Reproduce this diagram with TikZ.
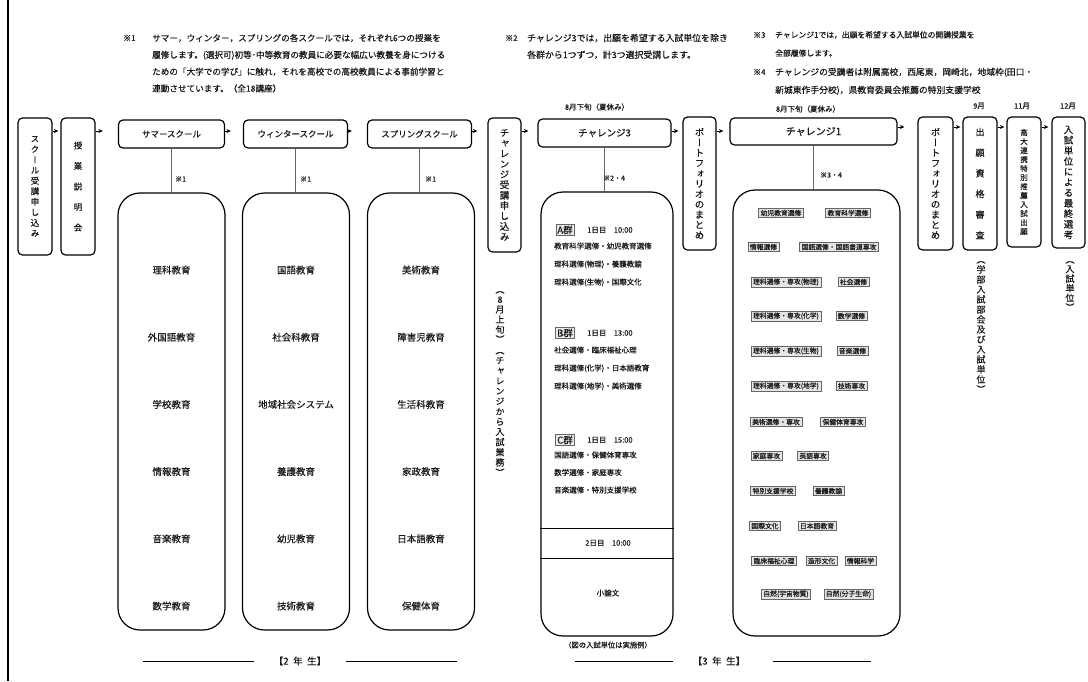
\documentclass[tikz,border=0pt]{standalone}
\usepackage{fontspec}
\setmainfont{Noto Sans CJK JP}[FakeBold=0.35]
\newfontfamily\jpv{Noto Sans CJK JP}[RawFeature={+vert},FakeBold=0.35]
\usetikzlibrary{arrows.meta}
\newcommand\fsz[1]{\fontsize{#1}{#1}\selectfont}
\newcommand\fszb[2]{\fontsize{#1}{#2}\selectfont}
\ExplSyntaxOn
\NewDocumentCommand\vstack{mm}{
  \vbox{\jpv \baselineskip=#1 \lineskiplimit=-\maxdimen \lineskip=0pt
    \tl_map_inline:nn {#2} {\hbox_to_wd:nn {1.2em} {\hss ##1 \hss}}}}
\ExplSyntaxOff
\begin{document}
\begin{tikzpicture}[x=1pt,y=-1pt,
  every node/.style={inner sep=0pt, text=black!90},
  tall/.style={draw=black, line width=1.2pt, rounded corners=4.5pt, fill=white},
  head/.style={draw=black, line width=1.2pt, rounded corners=4.5pt, fill=white},
  big/.style={draw=black, line width=1.2pt, rounded corners=22pt},
  arr/.style={-{Stealth[length=4.5pt,width=4pt]}, line width=1pt},
  conn/.style={draw=black!60, line width=0.8pt},
  tag/.style={draw=black!60, fill=black!10, line width=0.6pt, inner xsep=2pt, inner ysep=1.5pt, font=\fsz{6.8}},
  grp/.style={draw=black!60, fill=black!8, line width=0.7pt, inner xsep=1.5pt, inner ysep=1pt, font=\fsz{9.5}},
  note/.style={anchor=north west, align=left, font=\fszb{8.6}{16.8}},
  refmark/.style={anchor=west, font=\fsz{8}},
  small/.style={font=\fsz{7.5}},
  bigtxt/.style={font=\fsz{9.5}},
  grline/.style={anchor=north west, align=left, font=\fszb{7.5}{18}},
  yearlab/.style={font=\fsz{9.5}}
]
\useasboundingbox (0,0) rectangle (1088,681);
\fill[white] (0,0) rectangle (1088,681);
\draw[line width=1.3pt] (8,0) -- (8,681);

% notes
\node[refmark] (m1) at (123,38) {※1};
\node[note] (n1) at (152,33.8) {サマー，ウィンター，スプリングの各スクールでは，それぞれ6つの授業を\\履修します。(選択可)初等･中等教育の教員に必要な幅広い教養を身につける\\ための「大学での学び」に触れ，それを高校での高校教員による事前学習と\\連動させています。（全18講座）};
\node[refmark] (m2) at (505,38) {※2};
\node[note, font=\fszb{8.9}{16.8}] (n2) at (527,33.6) {チャレンジ3では，出願を希望する入試単位を除き\\各群から1つずつ，計3つ選択受講します。};
\node[refmark] (m3) at (753,35) {※3};
\node[note, font=\fszb{7.8}{18.3}] (n3) at (775,31) {チャレンジ1では，出願を希望する入試単位の開講授業を\\全部履修します。};
\node[refmark] (m4) at (753,72) {※4};
\node[note, font=\fszb{8.8}{18}] (n4) at (775,67.6) {チャレンジの受講者は附属高校，西尾東，岡崎北，地域枠(田口・\\新城東作手分校)，県教育委員会推薦の特別支援学校};

% months
\node[small] (t1) at (597,107) {8月下旬（夏休み）};
\node[small] (t2) at (808,109) {8月下旬（夏休み）};
\node[small] (t3) at (979,106) {9月};
\node[small] (t4) at (1022,106) {11月};
\node[small] (t5) at (1068,106) {12月};

% top row
\node[tall, minimum width=34pt, minimum height=137pt, font=\fsz{8.5}] (sk) at (35,186.5) {\vstack{10.5pt}{スクール受講申し込み}};
\node[tall, minimum width=34pt, minimum height=137pt, font=\fsz{8.5}] (ex) at (78,186.5) {\vstack{20.5pt}{授業説明会}};
\node[head, minimum width=106pt, minimum height=28pt, font=\fsz{8.5}] (su) at (171.5,134) {サマースクール};
\node[head, minimum width=104pt, minimum height=28pt, font=\fsz{8.5}] (wi) at (295.5,134) {ウィンタースクール};
\node[head, minimum width=104pt, minimum height=28pt, font=\fsz{8.5}] (sp) at (419.5,134) {スプリングスクール};
\node[tall, minimum width=33pt, minimum height=134pt, font=\fsz{9.5}] (ca) at (504.5,185) {\vstack{10.4pt}{チャレンジ受講申し込み}};
\node[head, minimum width=133pt, minimum height=28pt, font=\fsz{9.5}] (c3) at (604.5,133) {チャレンジ3};
\node[tall, minimum width=33pt, minimum height=133pt, font=\fsz{9.5}] (p1) at (699.5,183.5) {\vstack{10.3pt}{ポートフォリオのまとめ}};
\node[head, minimum width=167pt, minimum height=27pt, font=\fsz{10}] (c1) at (813.5,131.5) {チャレンジ1};
\node[tall, minimum width=35pt, minimum height=133pt, font=\fsz{9.5}] (p2) at (935.5,183.5) {\vstack{10.3pt}{ポートフォリオのまとめ}};
\node[tall, minimum width=34pt, minimum height=133pt, font=\fsz{9}] (de) at (980,183.5) {\vstack{20.6pt}{出願資格審査}};
\node[tall, minimum width=34pt, minimum height=130pt, font=\fsz{7.5}] (ko) at (1024,182) {\vstack{9pt}{高大連携特別推薦入試出願}};
\node[tall, minimum width=33pt, minimum height=131pt, font=\fsz{9.5}] (fi) at (1068.5,182.5) {\vstack{10.5pt}{入試単位による最終選考}};

% arrows
\coordinate (ar) at (0,131);
\coordinate (ar2) at (0,127);
\draw[arr, shorten >=2pt] (sk.east |- ar) -- (ex.west |- ar);
\draw[arr, shorten >=15pt] (ex.east |- ar) -- (su.west |- ar);
\draw[arr, shorten >=12pt] (su.east |- ar) -- (wi.west |- ar);
\draw[arr, shorten >=15pt] (wi.east |- ar) -- (sp.west |- ar);
\draw[arr, shorten >=10pt] (sp.east |- ar) -- (ca.west |- ar);
\draw[arr, shorten >=9pt] (ca.east |- ar) -- (c3.west |- ar);
\draw[arr, shorten >=4pt] (c3.east |- ar) -- (p1.west |- ar);
\draw[arr, shorten >=6pt] (p1.east |- ar) -- (c1.west |- ar);
\draw[arr, shorten >=13pt] (c1.east |- ar2) -- (p2.west |- ar2);
\draw[arr, shorten >=2pt] (p2.east |- ar2) -- (de.west |- ar2);
\draw[arr, shorten >=2pt] (de.east |- ar2) -- (ko.west |- ar2);
\draw[arr, shorten >=3pt] (ko.east |- ar2) -- (fi.west |- ar2);

% big boxes
\node[big, minimum width=107pt, minimum height=437pt] (sub) at (171.5,411.5) {};
\node[big, minimum width=107pt, minimum height=437pt] (wib) at (296,411.5) {};
\node[big, minimum width=107pt, minimum height=437pt] (spb) at (421,411.5) {};
\node[big, minimum width=132pt, minimum height=444pt] (c3b) at (607,414) {};
\node[big, minimum width=167pt, minimum height=446pt] (c1b) at (816.5,413) {};

\draw[conn] (su.south) -- (su.south |- sub.north);
\draw[conn] (wi.south) -- (wi.south |- wib.north);
\draw[conn] (sp.south) -- (sp.south |- spb.north);
\draw[conn] (c3.south) -- (c3.south |- c3b.north);
\draw[conn] (c1.south) -- (c1.south |- c1b.north);
\node[refmark, font=\fsz{7}] (k1) at (175,179) {※1};
\node[refmark, font=\fsz{7}] (k2) at (300,179) {※1};
\node[refmark, font=\fsz{7}] (k3) at (425,179) {※1};
\node[refmark, font=\fsz{7}] (k4) at (603,178) {※2・4};
\node[refmark, font=\fsz{7}] (k5) at (820,175) {※3・4};

% school contents
\foreach \t [count=\i] in {理科教育,外国語教育,学校教育,情報教育,音楽教育,数学教育}
  \node[bigtxt] (sut\i) at (171.5,{270+67.2*(\i-1)}) {\t};
\foreach \t [count=\i] in {国語教育,社会科教育,地域社会システム,養護教育,幼児教育,技術教育}
  \node[bigtxt] (wit\i) at (296,{270+67.2*(\i-1)}) {\t};
\foreach \t [count=\i] in {美術教育,障害児教育,生活科教育,家政教育,日本語教育,保健体育}
  \node[bigtxt] (spt\i) at (421,{270+67.2*(\i-1)}) {\t};

% challenge 3 contents
\node[grp] (ga) at (565,230) {A群};
\node[small, anchor=west] (ta) at (587,230) {1日目\quad 10:00};
\node[grline] (la) at (554,242.3) {教育科学選修・幼児教育選修\\理科選修(物理)・養護教諭\\理科選修(生物)・国際文化};
\node[grp] (gb) at (565,333) {B群};
\node[small, anchor=west] (tb) at (587,333) {1日目\quad 13:00};
\node[grline] (lb) at (554,346.3) {社会選修・臨床福祉心理\\理科選修(化学)・日本語教育\\理科選修(地学)・美術選修};
\node[grp] (gc) at (565,440) {C群};
\node[small, anchor=west] (tc) at (587,440) {1日目\quad 15:00};
\node[grline, font=\fszb{7.5}{17.5}] (lc) at (554,451.3) {国語選修・保健体育専攻\\数学選修・家庭専攻\\音楽選修・特別支援学校};
\coordinate (d1) at (0,528);
\coordinate (d2) at (0,558);
\draw[line width=0.9pt] (c3b.west |- d1) -- (c3b.east |- d1);
\draw[line width=0.9pt] (c3b.west |- d2) -- (c3b.east |- d2);
\node[small] (day2) at (608,543) {2日目\quad 10:00};
\node[small] (ron) at (608,593) {小論文};
\node[font=\fsz{7.3}] (cap) at (608,645) {（図の入試単位は実施例）};

% challenge 1 contents
\node[tag] (u1) at (781,213) {幼児教育選修};
\node[tag] (u2) at (848,213) {教育科学選修};
\node[tag] (u3) at (763.5,247) {情報選修};
\node[tag] (u4) at (839,247) {国語選修・国語書道専攻};
\node[tag] (u5) at (786,282) {理科選修・専攻(物理)};
\node[tag] (u6) at (853.5,282) {社会選修};
\node[tag] (u7) at (786,316) {理科選修・専攻(化学)};
\node[tag] (u8) at (851.5,316) {数学選修};
\node[tag] (u9) at (786,351) {理科選修・専攻(生物)};
\node[tag] (u10) at (852.5,351) {音楽選修};
\node[tag] (u11) at (786,386) {理科選修・専攻(地学)};
\node[tag] (u12) at (851.5,386) {技術専攻};
\node[tag] (u13) at (776,422) {美術選修・専攻};
\node[tag] (u14) at (843,422) {保健体育専攻};
\node[tag] (u15) at (766.5,456) {家庭専攻};
\node[tag] (u16) at (813,456) {英語専攻};
\node[tag] (u17) at (773,491) {特別支援学校};
\node[tag] (u18) at (828.5,491) {養護教諭};
\node[tag] (u19) at (765,526) {国際文化};
\node[tag] (u20) at (817,526) {日本語教育};
\node[tag] (u21) at (774,561) {臨床福祉心理};
\node[tag] (u22) at (821.5,561) {造形文化};
\node[tag] (u23) at (860.5,561) {情報科学};
\node[tag] (u24) at (786,594) {自然(宇宙物質)};
\node[tag] (u25) at (848.5,594) {自然(分子生命)};

% vertical side notes
\node[font=\fsz{9}] (v1) at (500,317) {\vstack{10pt}{（8月上旬）}};
\node[font=\fsz{9}] (v2) at (500,414) {\vstack{10.2pt}{（チャレンジから入試業務）}};
\node[font=\fsz{9}] (v3) at (981,327) {\vstack{10pt}{（学部入試部会及び入試単位）}};
\node[font=\fsz{9}] (v4) at (1070,286) {\vstack{9.6pt}{（入試単位）}};

% year labels
\node[yearlab] (y2) at (300,661) {【2\hspace{4.5pt}年\hspace{4.5pt}生】};
\node[yearlab] (y3) at (719,661) {【3\hspace{4.5pt}年\hspace{4.5pt}生】};
\draw[line width=1pt] ([xshift=-20pt]y2.west) -- ([xshift=-131pt]y2.west);
\draw[line width=1pt] ([xshift=20pt]y2.east) -- ([xshift=131pt]y2.east);
\draw[line width=1pt] ([xshift=-20pt]y3.west) -- ([xshift=-118pt]y3.west);
\draw[line width=1pt] ([xshift=28pt]y3.east) -- ([xshift=126pt]y3.east);
\end{tikzpicture}
\end{document}
